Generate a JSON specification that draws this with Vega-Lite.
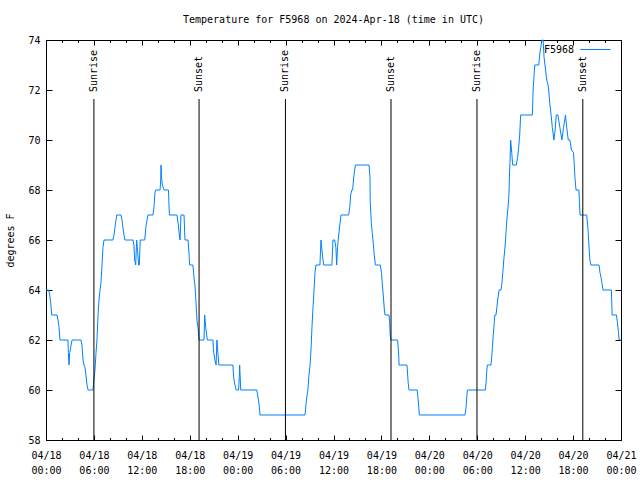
{
  "$schema": "https://vega.github.io/schema/vega-lite/v6.json",
  "autosize": {"type": "none"},
  "width": 575,
  "height": 400,
  "padding": {"left": 46, "top": 40, "right": 19, "bottom": 40},
  "background": "white",
  "config": {
    "view": {"stroke": "black", "strokeWidth": 1},
    "font": "DejaVu Sans Mono",
    "axis": {"labelFont": "DejaVu Sans Mono", "labelFontSize": 10, "labelColor": "black", "titleFont": "DejaVu Sans Mono", "titleFontSize": 10, "titleFontWeight": "normal", "titleColor": "black", "tickColor": "black", "domain": false, "grid": false}
  },
  "title": {"text": "Temperature for F5968 on 2024-Apr-18 (time in UTC)", "font": "DejaVu Sans Mono", "fontSize": 10, "fontWeight": "normal", "anchor": "middle", "offset": 9, "color": "black"},
  "datasets": {
    "temps": [
      {"time": "2024-04-18T00:00:00Z", "temp": 64}, {"time": "2024-04-18T00:20:00Z", "temp": 64}, {"time": "2024-04-18T00:28:00Z", "temp": 63.8}, {"time": "2024-04-18T00:35:00Z", "temp": 63.5}, {"time": "2024-04-18T00:43:00Z", "temp": 63},
      {"time": "2024-04-18T01:23:00Z", "temp": 63}, {"time": "2024-04-18T01:30:00Z", "temp": 62.8}, {"time": "2024-04-18T01:38:00Z", "temp": 62.5}, {"time": "2024-04-18T01:45:00Z", "temp": 62},
      {"time": "2024-04-18T02:45:00Z", "temp": 62}, {"time": "2024-04-18T02:48:00Z", "temp": 61.5}, {"time": "2024-04-18T02:53:00Z", "temp": 61}, {"time": "2024-04-18T02:58:00Z", "temp": 61.5}, {"time": "2024-04-18T03:03:00Z", "temp": 61.6}, {"time": "2024-04-18T03:08:00Z", "temp": 61.8}, {"time": "2024-04-18T03:16:00Z", "temp": 62},
      {"time": "2024-04-18T04:23:00Z", "temp": 62}, {"time": "2024-04-18T04:30:00Z", "temp": 61.8}, {"time": "2024-04-18T04:38:00Z", "temp": 61.2}, {"time": "2024-04-18T04:46:00Z", "temp": 61}, {"time": "2024-04-18T04:53:00Z", "temp": 60.9}, {"time": "2024-04-18T05:00:00Z", "temp": 60.6}, {"time": "2024-04-18T05:08:00Z", "temp": 60.2}, {"time": "2024-04-18T05:16:00Z", "temp": 60},
      {"time": "2024-04-18T05:53:00Z", "temp": 60}, {"time": "2024-04-18T06:00:00Z", "temp": 60.4}, {"time": "2024-04-18T06:08:00Z", "temp": 60.8}, {"time": "2024-04-18T06:16:00Z", "temp": 61.5}, {"time": "2024-04-18T06:23:00Z", "temp": 62}, {"time": "2024-04-18T06:31:00Z", "temp": 63}, {"time": "2024-04-18T06:38:00Z", "temp": 63.6}, {"time": "2024-04-18T06:46:00Z", "temp": 64}, {"time": "2024-04-18T06:53:00Z", "temp": 64.3}, {"time": "2024-04-18T07:01:00Z", "temp": 65}, {"time": "2024-04-18T07:08:00Z", "temp": 65.7}, {"time": "2024-04-18T07:16:00Z", "temp": 66},
      {"time": "2024-04-18T08:23:00Z", "temp": 66}, {"time": "2024-04-18T08:31:00Z", "temp": 66.2}, {"time": "2024-04-18T08:38:00Z", "temp": 66.5}, {"time": "2024-04-18T08:46:00Z", "temp": 66.8}, {"time": "2024-04-18T08:51:00Z", "temp": 67},
      {"time": "2024-04-18T09:23:00Z", "temp": 67}, {"time": "2024-04-18T09:31:00Z", "temp": 66.8}, {"time": "2024-04-18T09:38:00Z", "temp": 66.5}, {"time": "2024-04-18T09:46:00Z", "temp": 66.2}, {"time": "2024-04-18T09:53:00Z", "temp": 66},
      {"time": "2024-04-18T10:54:00Z", "temp": 66}, {"time": "2024-04-18T11:01:00Z", "temp": 65.8}, {"time": "2024-04-18T11:06:00Z", "temp": 65.2}, {"time": "2024-04-18T11:14:00Z", "temp": 65}, {"time": "2024-04-18T11:21:00Z", "temp": 66}, {"time": "2024-04-18T11:29:00Z", "temp": 65.5}, {"time": "2024-04-18T11:36:00Z", "temp": 65}, {"time": "2024-04-18T11:41:00Z", "temp": 65}, {"time": "2024-04-18T11:48:00Z", "temp": 66},
      {"time": "2024-04-18T12:22:00Z", "temp": 66}, {"time": "2024-04-18T12:30:00Z", "temp": 66.5}, {"time": "2024-04-18T12:39:00Z", "temp": 66.8}, {"time": "2024-04-18T12:46:00Z", "temp": 67},
      {"time": "2024-04-18T13:24:00Z", "temp": 67}, {"time": "2024-04-18T13:31:00Z", "temp": 67.3}, {"time": "2024-04-18T13:39:00Z", "temp": 67.9}, {"time": "2024-04-18T13:44:00Z", "temp": 68},
      {"time": "2024-04-18T14:17:00Z", "temp": 68}, {"time": "2024-04-18T14:22:00Z", "temp": 68.4}, {"time": "2024-04-18T14:24:00Z", "temp": 69}, {"time": "2024-04-18T14:28:00Z", "temp": 68.5}, {"time": "2024-04-18T14:34:00Z", "temp": 68.2}, {"time": "2024-04-18T14:47:00Z", "temp": 68},
      {"time": "2024-04-18T15:20:00Z", "temp": 68}, {"time": "2024-04-18T15:27:00Z", "temp": 67},
      {"time": "2024-04-18T16:24:00Z", "temp": 67}, {"time": "2024-04-18T16:34:00Z", "temp": 66.6}, {"time": "2024-04-18T16:42:00Z", "temp": 66.2}, {"time": "2024-04-18T16:47:00Z", "temp": 66}, {"time": "2024-04-18T16:54:00Z", "temp": 67},
      {"time": "2024-04-18T17:17:00Z", "temp": 67}, {"time": "2024-04-18T17:24:00Z", "temp": 66}, {"time": "2024-04-18T17:47:00Z", "temp": 66}, {"time": "2024-04-18T17:54:00Z", "temp": 65.5}, {"time": "2024-04-18T17:59:00Z", "temp": 65},
      {"time": "2024-04-18T18:24:00Z", "temp": 65}, {"time": "2024-04-18T18:32:00Z", "temp": 64.5}, {"time": "2024-04-18T18:39:00Z", "temp": 64.2}, {"time": "2024-04-18T18:47:00Z", "temp": 63.5}, {"time": "2024-04-18T18:54:00Z", "temp": 62.8}, {"time": "2024-04-18T19:02:00Z", "temp": 62.5}, {"time": "2024-04-18T19:10:00Z", "temp": 62},
      {"time": "2024-04-18T19:47:00Z", "temp": 62}, {"time": "2024-04-18T19:52:00Z", "temp": 63}, {"time": "2024-04-18T20:00:00Z", "temp": 62.5}, {"time": "2024-04-18T20:12:00Z", "temp": 62},
      {"time": "2024-04-18T20:54:00Z", "temp": 62}, {"time": "2024-04-18T21:00:00Z", "temp": 61.5}, {"time": "2024-04-18T21:09:00Z", "temp": 61.2}, {"time": "2024-04-18T21:18:00Z", "temp": 61}, {"time": "2024-04-18T21:24:00Z", "temp": 62}, {"time": "2024-04-18T21:31:00Z", "temp": 61.5}, {"time": "2024-04-18T21:39:00Z", "temp": 61},
      {"time": "2024-04-18T23:24:00Z", "temp": 61}, {"time": "2024-04-18T23:30:00Z", "temp": 60.5}, {"time": "2024-04-18T23:40:00Z", "temp": 60.2}, {"time": "2024-04-18T23:48:00Z", "temp": 60},
      {"time": "2024-04-19T00:07:00Z", "temp": 60}, {"time": "2024-04-19T00:12:00Z", "temp": 60.5}, {"time": "2024-04-19T00:15:00Z", "temp": 61}, {"time": "2024-04-19T00:23:00Z", "temp": 60},
      {"time": "2024-04-19T02:24:00Z", "temp": 60}, {"time": "2024-04-19T02:30:00Z", "temp": 59.8}, {"time": "2024-04-19T02:39:00Z", "temp": 59.5}, {"time": "2024-04-19T02:48:00Z", "temp": 59},
      {"time": "2024-04-19T08:26:00Z", "temp": 59}, {"time": "2024-04-19T08:33:00Z", "temp": 59.4}, {"time": "2024-04-19T08:41:00Z", "temp": 59.8}, {"time": "2024-04-19T08:48:00Z", "temp": 60}, {"time": "2024-04-19T08:54:00Z", "temp": 60.5}, {"time": "2024-04-19T09:04:00Z", "temp": 61}, {"time": "2024-04-19T09:12:00Z", "temp": 61.7}, {"time": "2024-04-19T09:18:00Z", "temp": 62.5}, {"time": "2024-04-19T09:26:00Z", "temp": 63.3}, {"time": "2024-04-19T09:34:00Z", "temp": 64}, {"time": "2024-04-19T09:41:00Z", "temp": 64.7}, {"time": "2024-04-19T09:48:00Z", "temp": 65},
      {"time": "2024-04-19T10:18:00Z", "temp": 65}, {"time": "2024-04-19T10:26:00Z", "temp": 66}, {"time": "2024-04-19T10:33:00Z", "temp": 65.6}, {"time": "2024-04-19T10:46:00Z", "temp": 65},
      {"time": "2024-04-19T11:48:00Z", "temp": 65}, {"time": "2024-04-19T11:56:00Z", "temp": 66}, {"time": "2024-04-19T12:09:00Z", "temp": 66}, {"time": "2024-04-19T12:18:00Z", "temp": 65.7}, {"time": "2024-04-19T12:24:00Z", "temp": 65}, {"time": "2024-04-19T12:30:00Z", "temp": 65.7}, {"time": "2024-04-19T12:39:00Z", "temp": 66.2}, {"time": "2024-04-19T12:56:00Z", "temp": 67},
      {"time": "2024-04-19T13:54:00Z", "temp": 67}, {"time": "2024-04-19T14:02:00Z", "temp": 67.3}, {"time": "2024-04-19T14:09:00Z", "temp": 67.8}, {"time": "2024-04-19T14:17:00Z", "temp": 68}, {"time": "2024-04-19T14:24:00Z", "temp": 68}, {"time": "2024-04-19T14:30:00Z", "temp": 68.4}, {"time": "2024-04-19T14:39:00Z", "temp": 68.8}, {"time": "2024-04-19T14:44:00Z", "temp": 69},
      {"time": "2024-04-19T16:27:00Z", "temp": 69}, {"time": "2024-04-19T16:34:00Z", "temp": 68.5}, {"time": "2024-04-19T16:36:00Z", "temp": 67.5}, {"time": "2024-04-19T16:44:00Z", "temp": 66.7}, {"time": "2024-04-19T16:51:00Z", "temp": 66.3}, {"time": "2024-04-19T17:00:00Z", "temp": 65.8}, {"time": "2024-04-19T17:06:00Z", "temp": 65.4}, {"time": "2024-04-19T17:15:00Z", "temp": 65},
      {"time": "2024-04-19T17:52:00Z", "temp": 65}, {"time": "2024-04-19T18:00:00Z", "temp": 64.7}, {"time": "2024-04-19T18:06:00Z", "temp": 64.3}, {"time": "2024-04-19T18:14:00Z", "temp": 63.8}, {"time": "2024-04-19T18:22:00Z", "temp": 63.2}, {"time": "2024-04-19T18:27:00Z", "temp": 63},
      {"time": "2024-04-19T18:57:00Z", "temp": 63}, {"time": "2024-04-19T19:02:00Z", "temp": 62.7}, {"time": "2024-04-19T19:06:00Z", "temp": 62.2}, {"time": "2024-04-19T19:12:00Z", "temp": 62},
      {"time": "2024-04-19T20:02:00Z", "temp": 62}, {"time": "2024-04-19T20:11:00Z", "temp": 61.3}, {"time": "2024-04-19T20:12:00Z", "temp": 61},
      {"time": "2024-04-19T21:12:00Z", "temp": 61}, {"time": "2024-04-19T21:21:00Z", "temp": 60.3}, {"time": "2024-04-19T21:27:00Z", "temp": 60},
      {"time": "2024-04-19T22:28:00Z", "temp": 60}, {"time": "2024-04-19T22:35:00Z", "temp": 59.7}, {"time": "2024-04-19T22:45:00Z", "temp": 59},
      {"time": "2024-04-20T04:28:00Z", "temp": 59}, {"time": "2024-04-20T04:36:00Z", "temp": 59.3}, {"time": "2024-04-20T04:41:00Z", "temp": 59.7}, {"time": "2024-04-20T04:46:00Z", "temp": 60},
      {"time": "2024-04-20T07:01:00Z", "temp": 60}, {"time": "2024-04-20T07:06:00Z", "temp": 60.3}, {"time": "2024-04-20T07:12:00Z", "temp": 60.8}, {"time": "2024-04-20T07:16:00Z", "temp": 61},
      {"time": "2024-04-20T07:43:00Z", "temp": 61}, {"time": "2024-04-20T07:48:00Z", "temp": 61.3}, {"time": "2024-04-20T07:54:00Z", "temp": 61.7}, {"time": "2024-04-20T08:00:00Z", "temp": 62.2}, {"time": "2024-04-20T08:08:00Z", "temp": 62.7}, {"time": "2024-04-20T08:12:00Z", "temp": 63},
      {"time": "2024-04-20T08:21:00Z", "temp": 63}, {"time": "2024-04-20T08:27:00Z", "temp": 63.3}, {"time": "2024-04-20T08:36:00Z", "temp": 63.7}, {"time": "2024-04-20T08:44:00Z", "temp": 64},
      {"time": "2024-04-20T08:58:00Z", "temp": 64}, {"time": "2024-04-20T09:06:00Z", "temp": 64.3}, {"time": "2024-04-20T09:12:00Z", "temp": 64.7}, {"time": "2024-04-20T09:21:00Z", "temp": 65.3}, {"time": "2024-04-20T09:30:00Z", "temp": 65.8}, {"time": "2024-04-20T09:36:00Z", "temp": 66.3}, {"time": "2024-04-20T09:42:00Z", "temp": 66.8}, {"time": "2024-04-20T09:51:00Z", "temp": 67.3}, {"time": "2024-04-20T09:58:00Z", "temp": 67.8}, {"time": "2024-04-20T10:02:00Z", "temp": 68.6}, {"time": "2024-04-20T10:06:00Z", "temp": 69.1}, {"time": "2024-04-20T10:11:00Z", "temp": 70}, {"time": "2024-04-20T10:19:00Z", "temp": 69.5}, {"time": "2024-04-20T10:26:00Z", "temp": 69},
      {"time": "2024-04-20T10:54:00Z", "temp": 69}, {"time": "2024-04-20T11:03:00Z", "temp": 69.3}, {"time": "2024-04-20T11:11:00Z", "temp": 69.7}, {"time": "2024-04-20T11:19:00Z", "temp": 70.2}, {"time": "2024-04-20T11:26:00Z", "temp": 71},
      {"time": "2024-04-20T12:54:00Z", "temp": 71}, {"time": "2024-04-20T13:00:00Z", "temp": 72}, {"time": "2024-04-20T13:06:00Z", "temp": 72.5}, {"time": "2024-04-20T13:12:00Z", "temp": 73},
      {"time": "2024-04-20T13:42:00Z", "temp": 73}, {"time": "2024-04-20T13:49:00Z", "temp": 73.4}, {"time": "2024-04-20T13:57:00Z", "temp": 73.7}, {"time": "2024-04-20T14:06:00Z", "temp": 74}, {"time": "2024-04-20T14:15:00Z", "temp": 74}, {"time": "2024-04-20T14:22:00Z", "temp": 73.3}, {"time": "2024-04-20T14:29:00Z", "temp": 73}, {"time": "2024-04-20T14:42:00Z", "temp": 72.4}, {"time": "2024-04-20T14:52:00Z", "temp": 72.2}, {"time": "2024-04-20T14:57:00Z", "temp": 72}, {"time": "2024-04-20T15:06:00Z", "temp": 71.4}, {"time": "2024-04-20T15:15:00Z", "temp": 71}, {"time": "2024-04-20T15:24:00Z", "temp": 70.5}, {"time": "2024-04-20T15:36:00Z", "temp": 70}, {"time": "2024-04-20T15:45:00Z", "temp": 70.4}, {"time": "2024-04-20T15:54:00Z", "temp": 71},
      {"time": "2024-04-20T16:06:00Z", "temp": 71}, {"time": "2024-04-20T16:21:00Z", "temp": 70.5}, {"time": "2024-04-20T16:36:00Z", "temp": 70}, {"time": "2024-04-20T16:48:00Z", "temp": 70.5}, {"time": "2024-04-20T17:03:00Z", "temp": 71}, {"time": "2024-04-20T17:12:00Z", "temp": 70.5}, {"time": "2024-04-20T17:24:00Z", "temp": 70},
      {"time": "2024-04-20T17:36:00Z", "temp": 70}, {"time": "2024-04-20T17:48:00Z", "temp": 69.6}, {"time": "2024-04-20T18:03:00Z", "temp": 69.5}, {"time": "2024-04-20T18:09:00Z", "temp": 69}, {"time": "2024-04-20T18:14:00Z", "temp": 68.5}, {"time": "2024-04-20T18:22:00Z", "temp": 68},
      {"time": "2024-04-20T18:44:00Z", "temp": 68}, {"time": "2024-04-20T18:48:00Z", "temp": 67.5}, {"time": "2024-04-20T18:52:00Z", "temp": 67},
      {"time": "2024-04-20T19:42:00Z", "temp": 67}, {"time": "2024-04-20T19:51:00Z", "temp": 66.5}, {"time": "2024-04-20T19:59:00Z", "temp": 65.8}, {"time": "2024-04-20T20:06:00Z", "temp": 65.2}, {"time": "2024-04-20T20:14:00Z", "temp": 65},
      {"time": "2024-04-20T21:15:00Z", "temp": 65}, {"time": "2024-04-20T21:22:00Z", "temp": 64.7}, {"time": "2024-04-20T21:30:00Z", "temp": 64.5}, {"time": "2024-04-20T21:36:00Z", "temp": 64.3}, {"time": "2024-04-20T21:45:00Z", "temp": 64},
      {"time": "2024-04-20T22:48:00Z", "temp": 64}, {"time": "2024-04-20T22:53:00Z", "temp": 63},
      {"time": "2024-04-20T23:26:00Z", "temp": 63}, {"time": "2024-04-20T23:33:00Z", "temp": 62.7}, {"time": "2024-04-20T23:41:00Z", "temp": 62.3}, {"time": "2024-04-20T23:46:00Z", "temp": 62}, {"time": "2024-04-21T00:00:00Z", "temp": 62}
    ],
    "sun": [
      {"time": "2024-04-18T06:00:00Z", "event": "Sunrise"},
      {"time": "2024-04-18T19:10:00Z", "event": "Sunset"},
      {"time": "2024-04-19T05:59:00Z", "event": "Sunrise"},
      {"time": "2024-04-19T19:12:00Z", "event": "Sunset"},
      {"time": "2024-04-20T05:58:00Z", "event": "Sunrise"},
      {"time": "2024-04-20T19:13:00Z", "event": "Sunset"}
    ]
  },
  "resolve": {"axis": {"x": "independent", "y": "independent"}},
  "layer": [
    {
      "data": {"name": "temps"},
      "mark": {"type": "line", "strokeWidth": 1, "interpolate": "linear"},
      "encoding": {
        "x": {"field": "time", "type": "temporal",
          "scale": {"type": "utc", "nice": false},
          "axis": {"orient": "bottom", "title": null,
            "values": [1713398400000, 1713405600000, 1713412800000, 1713420000000, 1713427200000, 1713434400000, 1713441600000, 1713448800000, 1713456000000, 1713463200000, 1713470400000, 1713477600000, 1713484800000, 1713492000000, 1713499200000, 1713506400000, 1713513600000, 1713520800000, 1713528000000, 1713535200000, 1713542400000, 1713549600000, 1713556800000, 1713564000000, 1713571200000, 1713578400000, 1713585600000, 1713592800000, 1713600000000, 1713607200000, 1713614400000, 1713621600000, 1713628800000, 1713636000000, 1713643200000, 1713650400000, 1713657600000],
            "labelExpr": "utchours(datum.value) % 6 == 0 ? [utcFormat(datum.value, '%m/%d'), utcFormat(datum.value, '%H:%M')] : ''",
            "tickSize": {"condition": {"test": "utchours(datum.value) % 6 == 0", "value": -5}, "value": -2.5},
            "labelPadding": 15, "labelLineHeight": 15, "labelOverlap": false, "labelFlush": false, "labelBound": false}},
        "y": {"field": "temp", "type": "quantitative",
          "scale": {"domain": [58, 74], "nice": false, "zero": false},
          "axis": {"orient": "left", "title": "degrees F", "values": [58, 60, 62, 64, 66, 68, 70, 72, 74], "tickSize": -6, "labelPadding": 12, "titlePadding": 12}},
        "color": {"datum": "F5968", "scale": {"range": ["#0080ff"]},
          "legend": {"title": null, "orient": "none", "legendX": 534, "legendY": -6, "padding": 0, "symbolType": "stroke", "symbolSize": 900, "symbolStrokeWidth": 1, "labelFont": "DejaVu Sans Mono", "labelFontSize": 10, "labelColor": "black", "labelAlign": "right", "labelOffset": -37}}
      }
    },
    {
      "data": {"name": "sun"},
      "mark": {"type": "rule", "color": "black", "strokeWidth": 1},
      "encoding": {
        "x": {"field": "time", "type": "temporal",
          "axis": {"orient": "top", "title": null, "labels": false,
            "tickSize": {"condition": {"test": "utchours(datum.value) % 6 == 0", "value": -5}, "value": -2.5},
            "values": [1713398400000, 1713405600000, 1713412800000, 1713420000000, 1713427200000, 1713434400000, 1713441600000, 1713448800000, 1713456000000, 1713463200000, 1713470400000, 1713477600000, 1713484800000, 1713492000000, 1713499200000, 1713506400000, 1713513600000, 1713520800000, 1713528000000, 1713535200000, 1713542400000, 1713549600000, 1713556800000, 1713564000000, 1713571200000, 1713578400000, 1713585600000, 1713592800000, 1713600000000, 1713607200000, 1713614400000, 1713621600000, 1713628800000, 1713636000000, 1713643200000, 1713650400000, 1713657600000]}},
        "y": {"datum": 58, "type": "quantitative",
          "axis": {"orient": "right", "title": null, "labels": false, "values": [58, 60, 62, 64, 66, 68, 70, 72, 74], "tickSize": -6}},
        "y2": {"datum": 71.64}
      }
    },
    {
      "data": {"name": "sun"},
      "mark": {"type": "text", "angle": 270, "align": "left", "baseline": "middle", "font": "DejaVu Sans Mono", "fontSize": 10, "color": "black"},
      "encoding": {
        "x": {"field": "time", "type": "temporal", "axis": null},
        "y": {"datum": 71.92, "type": "quantitative", "axis": null},
        "text": {"field": "event"}
      }
    }
  ]
}
